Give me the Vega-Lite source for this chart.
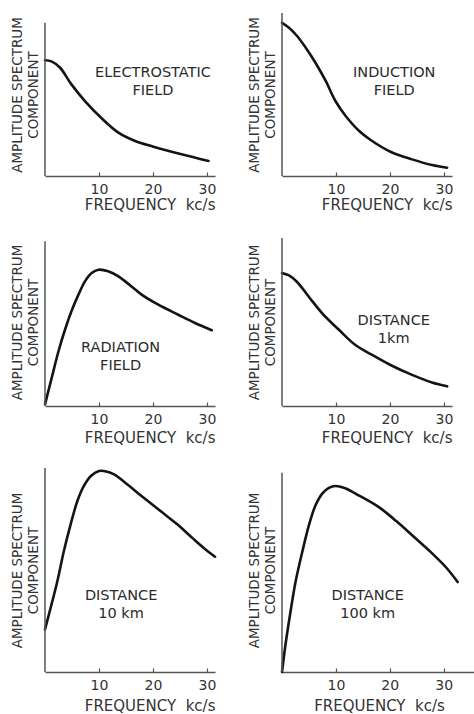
{
  "$schema": "https://vega.github.io/schema/vega-lite/v6.json",
  "background": "white",
  "padding": {"left": 10, "top": 12, "right": 0, "bottom": 0},
  "bounds": "flush",
  "columns": 2,
  "spacing": {"row": 62, "column": 67},
  "datasets": {
    "curves": [
      {"panel":1,"f":0,"a":71.0},{"panel":1,"f":1.2,"a":70.3},{"panel":1,"f":2.8,"a":66.4},{"panel":1,"f":4.9,"a":56.2},{"panel":1,"f":7.4,"a":46.0},{"panel":1,"f":10.5,"a":35.4},{"panel":1,"f":13.6,"a":26.6},{"panel":1,"f":16.7,"a":21.5},{"panel":1,"f":20.1,"a":18.0},{"panel":1,"f":25.3,"a":13.3},{"panel":1,"f":30.3,"a":9.2},
      {"panel":2,"f":0,"a":94.0},{"panel":2,"f":1.3,"a":91.0},{"panel":2,"f":2.8,"a":85.9},{"panel":2,"f":4.4,"a":78.7},{"panel":2,"f":6.2,"a":69.5},{"panel":2,"f":8.1,"a":58.3},{"panel":2,"f":9.9,"a":46.0},{"panel":2,"f":11.8,"a":36.8},{"panel":2,"f":14.3,"a":27.6},{"panel":2,"f":16.7,"a":21.5},{"panel":2,"f":20.1,"a":14.9},{"panel":2,"f":24.1,"a":10.2},{"panel":2,"f":27.8,"a":6.7},{"panel":2,"f":30.6,"a":5.1},
      {"panel":3,"f":0,"a":1},{"panel":3,"f":1.24,"a":16.7},{"panel":3,"f":2.5,"a":32.6},{"panel":3,"f":3.7,"a":45.4},{"panel":3,"f":4.9,"a":56.4},{"panel":3,"f":6.2,"a":66.3},{"panel":3,"f":7.4,"a":74.2},{"panel":3,"f":8.65,"a":79.2},{"panel":3,"f":9.9,"a":81.1},{"panel":3,"f":11.7,"a":80.2},{"panel":3,"f":13.6,"a":77.2},{"panel":3,"f":15.7,"a":72.0},{"panel":3,"f":17.9,"a":66.3},{"panel":3,"f":21.0,"a":60.3},{"panel":3,"f":24.7,"a":54.3},{"panel":3,"f":27.8,"a":49.4},{"panel":3,"f":30.9,"a":45.1},
      {"panel":4,"f":0,"a":79.1},{"panel":4,"f":1.3,"a":77.7},{"panel":4,"f":2.8,"a":73.8},{"panel":4,"f":5.0,"a":64.9},{"panel":4,"f":7.5,"a":55.0},{"panel":4,"f":10.6,"a":45.2},{"panel":4,"f":13.6,"a":36.3},{"panel":4,"f":16.7,"a":30.4},{"panel":4,"f":20.1,"a":24.4},{"panel":4,"f":24.1,"a":18.5},{"panel":4,"f":27.8,"a":14.0},{"panel":4,"f":30.6,"a":11.7},
      {"panel":5,"f":0,"a":20.9},{"panel":5,"f":1.05,"a":31.5},{"panel":5,"f":2.3,"a":44.6},{"panel":5,"f":3.5,"a":59.3},{"panel":5,"f":4.75,"a":72.4},{"panel":5,"f":6.0,"a":83.8},{"panel":5,"f":7.2,"a":91.2},{"panel":5,"f":8.5,"a":96.1},{"panel":5,"f":10.0,"a":98.5},{"panel":5,"f":10.9,"a":98.5},{"panel":5,"f":12.8,"a":96.9},{"panel":5,"f":15.2,"a":92.0},{"panel":5,"f":18.3,"a":85.4},{"panel":5,"f":21.4,"a":78.9},{"panel":5,"f":24.5,"a":72.4},{"panel":5,"f":27.6,"a":65.0},{"panel":5,"f":30.1,"a":59.3},{"panel":5,"f":31.5,"a":56.5},
      {"panel":6,"f":0,"a":0},{"panel":6,"f":0.69,"a":14.2},{"panel":6,"f":1.6,"a":29.9},{"panel":6,"f":2.5,"a":44.0},{"panel":6,"f":3.8,"a":59.3},{"panel":6,"f":5.0,"a":72.0},{"panel":6,"f":6.2,"a":81.6},{"panel":6,"f":7.5,"a":87.6},{"panel":6,"f":8.7,"a":90.3},{"panel":6,"f":9.9,"a":91.2},{"panel":6,"f":11.6,"a":90.2},{"panel":6,"f":14.3,"a":86.5},{"panel":6,"f":18.1,"a":80.6},{"panel":6,"f":21.2,"a":74.0},{"panel":6,"f":24.3,"a":66.7},{"panel":6,"f":27.4,"a":59.3},{"panel":6,"f":30.5,"a":51.1},{"panel":6,"f":32.6,"a":44.1}
    ],
    "axislines": [
      {"panel":1,"f":0,"a":0,"top":94},
      {"panel":2,"f":0,"a":0,"top":100},
      {"panel":3,"f":0,"a":0,"top":98},
      {"panel":4,"f":0,"a":0,"top":100},
      {"panel":5,"f":0,"a":0,"top":100},
      {"panel":6,"f":0,"a":0,"top":97.7}
    ],
    "labels": [
      {"panel":1,"f":20.0,"a":63.2,"label":"ELECTROSTATIC\nFIELD"},
      {"panel":2,"f":20.8,"a":63.4,"label":"INDUCTION\nFIELD"},
      {"panel":3,"f":14.0,"a":34.5,"label":"RADIATION\nFIELD"},
      {"panel":4,"f":20.7,"a":50.4,"label":"DISTANCE\n1km"},
      {"panel":5,"f":14.1,"a":37.3,"label":"DISTANCE\n10 km"},
      {"panel":6,"f":15.9,"a":37.3,"label":"DISTANCE\n100 km"}
    ]
  },
  "concat": [
    {
      "width": 170, "height": 163,
      "layer": [
        {"data":{"name":"curves"},"transform":[{"filter":"datum.panel == 1"}],
         "mark":{"type":"line","interpolate":"catmull-rom","color":"#141414","strokeWidth":2.6,"strokeCap":"round"},
         "encoding":{
           "x":{"field":"f","type":"quantitative","scale":{"domain":[0,31.5],"nice":false},"axis":{"title":"FREQUENCY\u00a0\u00a0kc/s","titlePadding":1,"values":[10,20,30]}},
           "y":{"field":"a","type":"quantitative","scale":{"domain":[0,100],"nice":false},"axis":{"title":["AMPLITUDE SPECTRUM","COMPONENT"]}}}},
        {"data":{"name":"axislines"},"transform":[{"filter":"datum.panel == 1"}],
         "mark":{"type":"rule","color":"#555555","strokeWidth":1.5},
         "encoding":{"x":{"field":"f","type":"quantitative"},"y":{"field":"a","type":"quantitative"},"y2":{"field":"top"}}},
        {"data":{"name":"labels"},"transform":[{"filter":"datum.panel == 1"}],
         "mark":{"type":"text","fontSize":14.5,"lineBreak":"\n","lineHeight":18,"color":"#2b2b2b","align":"center","baseline":"middle"},
         "encoding":{"x":{"field":"f","type":"quantitative"},"y":{"field":"a","type":"quantitative"},"text":{"field":"label"}}}
      ]
    },
    {
      "width": 170, "height": 163,
      "layer": [
        {"data":{"name":"curves"},"transform":[{"filter":"datum.panel == 2"}],
         "mark":{"type":"line","interpolate":"catmull-rom","color":"#141414","strokeWidth":2.6,"strokeCap":"round"},
         "encoding":{
           "x":{"field":"f","type":"quantitative","scale":{"domain":[0,31.5],"nice":false},"axis":{"title":"FREQUENCY\u00a0\u00a0kc/s","titlePadding":1,"values":[10,20,30]}},
           "y":{"field":"a","type":"quantitative","scale":{"domain":[0,100],"nice":false},"axis":{"title":["AMPLITUDE SPECTRUM","COMPONENT"]}}}},
        {"data":{"name":"axislines"},"transform":[{"filter":"datum.panel == 2"}],
         "mark":{"type":"rule","color":"#555555","strokeWidth":1.5},
         "encoding":{"x":{"field":"f","type":"quantitative"},"y":{"field":"a","type":"quantitative"},"y2":{"field":"top"}}},
        {"data":{"name":"labels"},"transform":[{"filter":"datum.panel == 2"}],
         "mark":{"type":"text","fontSize":14.5,"lineBreak":"\n","lineHeight":18,"color":"#2b2b2b","align":"center","baseline":"middle"},
         "encoding":{"x":{"field":"f","type":"quantitative"},"y":{"field":"a","type":"quantitative"},"text":{"field":"label"}}}
      ]
    },
    {
      "width": 170, "height": 168,
      "layer": [
        {"data":{"name":"curves"},"transform":[{"filter":"datum.panel == 3"}],
         "mark":{"type":"line","interpolate":"catmull-rom","color":"#141414","strokeWidth":2.6,"strokeCap":"round"},
         "encoding":{
           "x":{"field":"f","type":"quantitative","scale":{"domain":[0,31.5],"nice":false},"axis":{"title":"FREQUENCY\u00a0\u00a0kc/s","titlePadding":4,"values":[10,20,30]}},
           "y":{"field":"a","type":"quantitative","scale":{"domain":[0,100],"nice":false},"axis":{"title":["AMPLITUDE SPECTRUM","COMPONENT"]}}}},
        {"data":{"name":"axislines"},"transform":[{"filter":"datum.panel == 3"}],
         "mark":{"type":"rule","color":"#555555","strokeWidth":1.5},
         "encoding":{"x":{"field":"f","type":"quantitative"},"y":{"field":"a","type":"quantitative"},"y2":{"field":"top"}}},
        {"data":{"name":"labels"},"transform":[{"filter":"datum.panel == 3"}],
         "mark":{"type":"text","fontSize":14.5,"lineBreak":"\n","lineHeight":18,"color":"#2b2b2b","align":"center","baseline":"middle"},
         "encoding":{"x":{"field":"f","type":"quantitative"},"y":{"field":"a","type":"quantitative"},"text":{"field":"label"}}}
      ]
    },
    {
      "width": 170, "height": 168,
      "layer": [
        {"data":{"name":"curves"},"transform":[{"filter":"datum.panel == 4"}],
         "mark":{"type":"line","interpolate":"catmull-rom","color":"#141414","strokeWidth":2.6,"strokeCap":"round"},
         "encoding":{
           "x":{"field":"f","type":"quantitative","scale":{"domain":[0,31.5],"nice":false},"axis":{"title":"FREQUENCY\u00a0\u00a0kc/s","titlePadding":4,"values":[10,20,30]}},
           "y":{"field":"a","type":"quantitative","scale":{"domain":[0,100],"nice":false},"axis":{"title":["AMPLITUDE SPECTRUM","COMPONENT"]}}}},
        {"data":{"name":"axislines"},"transform":[{"filter":"datum.panel == 4"}],
         "mark":{"type":"rule","color":"#555555","strokeWidth":1.5},
         "encoding":{"x":{"field":"f","type":"quantitative"},"y":{"field":"a","type":"quantitative"},"y2":{"field":"top"}}},
        {"data":{"name":"labels"},"transform":[{"filter":"datum.panel == 4"}],
         "mark":{"type":"text","fontSize":14.5,"lineBreak":"\n","lineHeight":18,"color":"#2b2b2b","align":"center","baseline":"middle"},
         "encoding":{"x":{"field":"f","type":"quantitative"},"y":{"field":"a","type":"quantitative"},"text":{"field":"label"}}}
      ]
    },
    {
      "width": 170, "height": 204,
      "layer": [
        {"data":{"name":"curves"},"transform":[{"filter":"datum.panel == 5"}],
         "mark":{"type":"line","interpolate":"catmull-rom","color":"#141414","strokeWidth":2.6,"strokeCap":"round"},
         "encoding":{
           "x":{"field":"f","type":"quantitative","scale":{"domain":[0,31.5],"nice":false},"axis":{"title":"FREQUENCY\u00a0\u00a0kc/s","titlePadding":6,"values":[10,20,30]}},
           "y":{"field":"a","type":"quantitative","scale":{"domain":[0,100],"nice":false},"axis":{"title":["AMPLITUDE SPECTRUM","COMPONENT"]}}}},
        {"data":{"name":"axislines"},"transform":[{"filter":"datum.panel == 5"}],
         "mark":{"type":"rule","color":"#555555","strokeWidth":1.5},
         "encoding":{"x":{"field":"f","type":"quantitative"},"y":{"field":"a","type":"quantitative"},"y2":{"field":"top"}}},
        {"data":{"name":"labels"},"transform":[{"filter":"datum.panel == 5"}],
         "mark":{"type":"text","fontSize":14.5,"lineBreak":"\n","lineHeight":18,"color":"#2b2b2b","align":"center","baseline":"middle"},
         "encoding":{"x":{"field":"f","type":"quantitative"},"y":{"field":"a","type":"quantitative"},"text":{"field":"label"}}}
      ]
    },
    {
      "width": 194, "height": 204,
      "layer": [
        {"data":{"name":"curves"},"transform":[{"filter":"datum.panel == 6"}],
         "mark":{"type":"line","interpolate":"catmull-rom","color":"#141414","strokeWidth":2.6,"strokeCap":"round"},
         "encoding":{
           "x":{"field":"f","type":"quantitative","scale":{"domain":[0,36],"nice":false},"axis":{"title":"FREQUENCY\u00a0\u00a0kc/s","titlePadding":6,"titleAnchor":"middle","values":[10,20,30]}},
           "y":{"field":"a","type":"quantitative","scale":{"domain":[0,100],"nice":false},"axis":{"title":["AMPLITUDE SPECTRUM","COMPONENT"]}}}},
        {"data":{"name":"axislines"},"transform":[{"filter":"datum.panel == 6"}],
         "mark":{"type":"rule","color":"#555555","strokeWidth":1.5},
         "encoding":{"x":{"field":"f","type":"quantitative"},"y":{"field":"a","type":"quantitative"},"y2":{"field":"top"}}},
        {"data":{"name":"labels"},"transform":[{"filter":"datum.panel == 6"}],
         "mark":{"type":"text","fontSize":14.5,"lineBreak":"\n","lineHeight":18,"color":"#2b2b2b","align":"center","baseline":"middle"},
         "encoding":{"x":{"field":"f","type":"quantitative"},"y":{"field":"a","type":"quantitative"},"text":{"field":"label"}}}
      ]
    }
  ],
  "config": {
    "view": {"stroke": null},
    "font": "DejaVu Sans",
    "text": {"font": "DejaVu Sans"},
    "axis": {
      "grid": false,
      "titleFont": "DejaVu Sans",
      "labelFont": "DejaVu Sans",
      "titleFontWeight": "normal",
      "titleColor": "#333333",
      "labelColor": "#333333",
      "domainColor": "#555555",
      "tickColor": "#555555"
    },
    "axisX": {
      "tickSize": -4,
      "tickWidth": 1.2,
      "domainWidth": 1.5,
      "labelFontSize": 14,
      "labelPadding": 10,
      "labelFlush": false,
      "titleFontSize": 15,
      "titleAnchor": "end"
    },
    "axisY": {
      "domain": false,
      "ticks": false,
      "labels": false,
      "titleFontSize": 13.5,
      "titlePadding": 4,
      "titleLineHeight": 16.3
    }
  }
}
